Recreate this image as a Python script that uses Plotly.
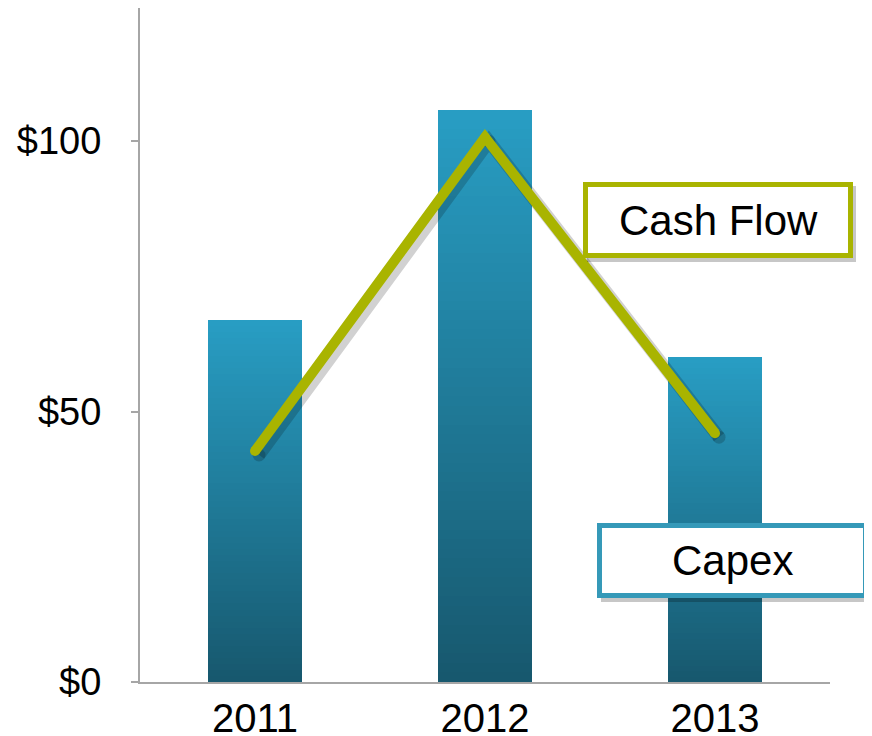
import plotly.graph_objects as go

years = ["2011", "2012", "2013"]
capex = [67, 105.7, 60]
cash_flow = [42.7, 100.7, 46]
tick_vals = [0, 50, 100]
tick_text = ["$0", "$50", "$100"]

FONT = "Liberation Sans, Arial, sans-serif"
N = 60
bottom_rgb = (0x17, 0x58, 0x6e)
top_rgb = (0x28, 0x9d, 0xc3)
Y_MAX = 124.6


def lerp_color(t):
    r, g, b = (round(bottom_rgb[i] + (top_rgb[i] - bottom_rgb[i]) * t) for i in range(3))
    return f"rgb({r},{g},{b})"


fig = go.Figure()
for k in range(N):
    fig.add_trace(go.Bar(
        x=years, y=[v / N for v in capex],
        marker=dict(color=lerp_color(k / (N - 1)), line=dict(width=0)),
        width=0.41, showlegend=False, hoverinfo="skip",
    ))

# soft shadow of the line, drawn on an overlay axis pair offset by a few pixels
fig.add_trace(go.Scatter(
    x=years, y=cash_flow, mode="lines+markers", xaxis="x2", yaxis="y2",
    line=dict(color="rgba(0,0,0,0.18)", width=13),
    marker=dict(color="rgba(0,0,0,0.18)", size=13, line=dict(width=0)),
    showlegend=False, hoverinfo="skip",
))
fig.add_trace(go.Scatter(
    x=years, y=cash_flow, mode="lines+markers", xaxis="x3", yaxis="y3",
    line=dict(color="#a9b400", width=10),
    marker=dict(color="#a9b400", size=10),
    showlegend=False, hoverinfo="skip",
))

# plot area in screen px: x 140..830, y 8..682
def px_x(p):
    return (p - 140) / 690.0


def px_y(p):
    return (682 - p) / 674.0


boxes = [
    ("Cash Flow", 583, 853, 182, 258, "#a9b400"),
    ("Capex", 597, 868, 523, 598, "#3599b8"),
]
shapes = []
annotations = []
for text, x0, x1, y0, y1, col in boxes:
    shapes.append(dict(type="rect", xref="paper", yref="paper",
                       x0=px_x(x0 + 4), x1=px_x(x1 + 3), y0=px_y(y1 + 4), y1=px_y(y0 + 4),
                       line=dict(width=0), fillcolor="rgba(0,0,0,0.22)", layer="above"))
    shapes.append(dict(type="rect", xref="paper", yref="paper",
                       x0=px_x(x0 + 2.5), x1=px_x(x1 - 2.5), y0=px_y(y1 - 2.5), y1=px_y(y0 + 2.5),
                       line=dict(width=5, color=col), fillcolor="white", layer="above"))
    annotations.append(dict(xref="paper", yref="paper",
                            x=px_x((x0 + x1) / 2), y=px_y((y0 + y1) / 2),
                            text=text, showarrow=False,
                            font=dict(family=FONT, size=42, color="black"),
                            xanchor="center", yanchor="middle"))

dx = 4 / 230.0          # category units per 4 px
dy = 4 * Y_MAX / 674.0  # value units per 4 px
hidden = dict(visible=False, showgrid=False, zeroline=False, fixedrange=True)

fig.update_layout(
    width=864, height=728,
    margin=dict(l=132, r=42, t=0, b=54, autoexpand=False),
    paper_bgcolor="white", plot_bgcolor="white",
    barmode="stack", bargap=0,
    shapes=shapes, annotations=annotations,
    font=dict(family=FONT, size=38, color="black"),
    xaxis=dict(type="category", range=[-0.5, 2.5], showline=True, linecolor="#a6a6a6",
               linewidth=2, ticks="", showgrid=False, zeroline=False,
               tickfont=dict(family=FONT, size=40, color="black")),
    yaxis=dict(range=[0, Y_MAX], tickvals=tick_vals, ticktext=tick_text,
               showline=True, linecolor="#a6a6a6", linewidth=2,
               ticks="outside", ticklen=7, tickcolor="#a6a6a6", tickwidth=2,
               showgrid=False, zeroline=False, ticklabelstandoff=22,
               tickfont=dict(family=FONT, size=38, color="black")),
    xaxis2=dict(type="category", overlaying="x", range=[-0.5 - dx, 2.5 - dx],
                categoryorder="array", categoryarray=years, **hidden),
    yaxis2=dict(overlaying="y", range=[0 + dy, Y_MAX + dy], **hidden),
    xaxis3=dict(type="category", overlaying="x", range=[-0.5, 2.5],
                categoryorder="array", categoryarray=years, **hidden),
    yaxis3=dict(overlaying="y", range=[0, Y_MAX], **hidden),
)

fig.write_html("out.html")
